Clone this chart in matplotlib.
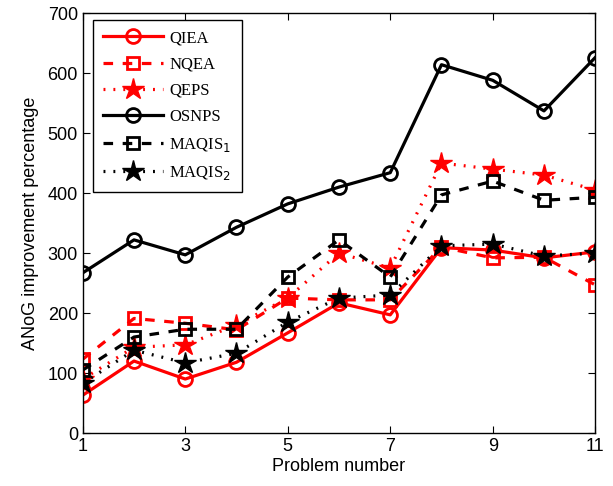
import matplotlib
matplotlib.use("Agg")
import matplotlib.pyplot as plt

x = list(range(1, 12))
qiea = [63, 120, 90, 118, 167, 217, 197, 309, 305, 292, 302]
nqea = [123, 191, 183, 172, 225, 222, 222, 310, 292, 293, 247]
qeps = [90, 143, 147, 180, 225, 300, 275, 450, 440, 430, 405]
osnps = [267, 322, 297, 343, 382, 410, 434, 614, 588, 537, 626]
maqis1 = [105, 160, 173, 173, 260, 322, 260, 397, 420, 388, 393]
maqis2 = [83, 138, 117, 133, 185, 225, 230, 312, 315, 295, 300]
labels = ["QIEA", "NQEA", "QEPS", "OSNPS", "MAQIS$_1$", "MAQIS$_2$"]

fig = plt.figure(figsize=(6.13, 4.86), dpi=100)
ax = fig.add_axes([0.135, 0.109, 0.836, 0.864])

lw = 2.3
ax.plot(x, qiea, color="red", ls="-", lw=lw, marker="o", ms=10, mfc="none", mew=2, label=labels[0])
ax.plot(x, nqea, color="red", ls=(0, (3, 3)), lw=lw, marker="s", ms=9, mfc="none", mew=2, label=labels[1])
ax.plot(x, qeps, color="red", ls=(0, (0.6, 2.5)), lw=lw, marker="*", ms=16, mfc="red", mew=1, label=labels[2])
ax.plot(x, osnps, color="black", ls="-", lw=lw, marker="o", ms=10, mfc="none", mew=2, label=labels[3])
ax.plot(x, maqis1, color="black", ls=(0, (3, 3)), lw=lw, marker="s", ms=9, mfc="none", mew=2, label=labels[4])
ax.plot(x, maqis2, color="black", ls=(0, (0.6, 2.5)), lw=lw, marker="*", ms=16, mfc="black", mew=1, label=labels[5])

ax.set_xlim(1, 11)
ax.set_ylim(0, 700)
ax.set_xticks([1, 3, 5, 7, 9, 11])
ax.set_yticks(range(0, 701, 100))
ax.tick_params(direction="in", top=True, right=True, labelsize=13, length=5)
for t in ax.get_xticklabels() + ax.get_yticklabels():
    t.set_family("Liberation Sans")
ax.set_xlabel("Problem number", fontsize=13, family="Liberation Sans", labelpad=2)
ax.set_ylabel("ANoG improvement percentage", fontsize=13, family="Liberation Sans", labelpad=6)
for s in ax.spines.values():
    s.set_linewidth(1.0)

leg = ax.legend(loc="upper left", prop={"family": "Liberation Serif", "size": 12},
                handlelength=3.6, handletextpad=0.4, fancybox=False, edgecolor="black", framealpha=1,
                borderpad=0.6, labelspacing=0.62, borderaxespad=0,
                bbox_to_anchor=(0.0195, 0.983))
leg.get_frame().set_linewidth(1.0)

fig.savefig("out.png", dpi=100)
